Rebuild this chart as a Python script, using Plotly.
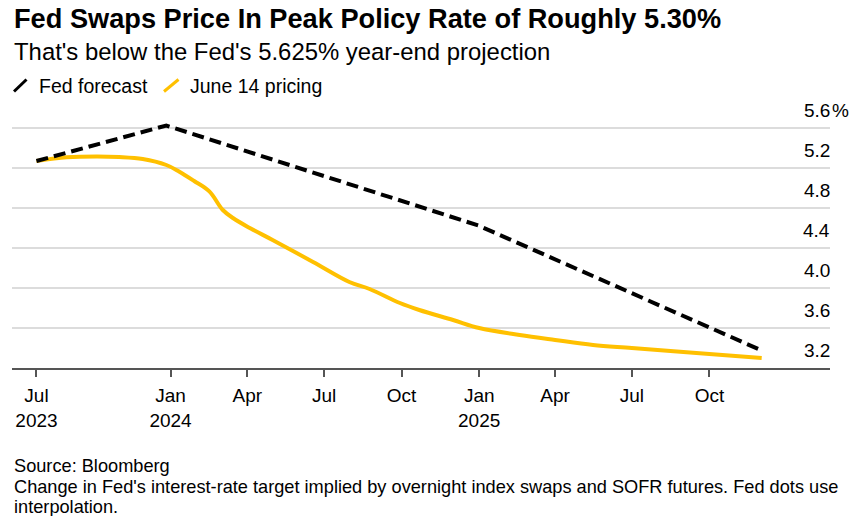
import plotly.graph_objects as go

# ---- data ----
pricing_dates = ["2023-07-26", "2023-08-31", "2023-10-05", "2023-11-01", "2023-11-29",
                 "2023-12-27", "2024-01-11", "2024-01-29", "2024-02-16", "2024-03-03",
                 "2024-03-15", "2024-04-04", "2024-05-01", "2024-06-18", "2024-07-31",
                 "2024-08-24", "2024-09-29", "2024-10-22", "2024-12-01", "2025-01-01",
                 "2025-02-18", "2025-04-01", "2025-05-16", "2025-07-01", "2025-10-01",
                 "2025-12-02"]
pricing_values = [5.27, 5.307, 5.316, 5.31, 5.29,
                  5.23, 5.166, 5.07, 4.966, 4.78,
                  4.70, 4.60, 4.48, 4.26, 4.06,
                  3.99, 3.85, 3.78, 3.68, 3.60,
                  3.53, 3.48, 3.43, 3.40, 3.34,
                  3.30]

fed_dates = ["2023-07-26", "2023-12-27", "2024-12-31", "2025-12-02"]
fed_values = [5.27, 5.625, 4.625, 3.375]

x_tick_vals = ["2023-07-26", "2024-01-01", "2024-04-01", "2024-07-01", "2024-10-01",
               "2025-01-01", "2025-04-01", "2025-07-01", "2025-10-01"]
x_tick_text = ["Jul<br>2023", "Jan<br>2024", "Apr", "Jul", "Oct",
               "Jan<br>2025", "Apr", "Jul", "Oct"]
y_tick_vals = [3.2, 3.6, 4.0, 4.4, 4.8, 5.2, 5.6]
y_tick_text = ["3.2", "3.6", "4.0", "4.4", "4.8", "5.2", "5.6"]

title = "Fed Swaps Price In Peak Policy Rate of Roughly 5.30%"
subtitle = "That's below the Fed's 5.625% year-end projection"
legend_names = ["Fed forecast", "June 14 pricing"]
footer_lines = ["Source: Bloomberg",
                "Change in Fed's interest-rate target implied by overnight index swaps and SOFR futures. Fed dots use",
                "interpolation."]

# ---- style ----
FONT = "Liberation Sans, Arial, sans-serif"
YELLOW = "#FFC000"
W, H = 855, 516
ML, MR, MT, MB = 12, 25, 118, 148
PW, PH = W - ML - MR, H - MT - MB


def px(x):
    return (x - ML) / PW


def py(y):
    return (H - MB - y) / PH


fig = go.Figure()
fig.add_trace(go.Scatter(x=pricing_dates, y=pricing_values, mode="lines",
                         line=dict(color=YELLOW, width=4, shape="spline", smoothing=1.0),
                         name=legend_names[1], showlegend=False))
fig.add_trace(go.Scatter(x=fed_dates, y=fed_values, mode="lines",
                         line=dict(color="black", width=4, dash="12px,6px"),
                         name=legend_names[0], showlegend=False))

annotations = []
# title / subtitle
annotations.append(dict(text=f"<b>{title}</b>", x=px(12), y=py(18.5), xref="paper", yref="paper",
                        xanchor="left", yanchor="middle", showarrow=False,
                        font=dict(family=FONT, size=27.2, color="black")))
annotations.append(dict(text=subtitle, x=px(12), y=py(51), xref="paper", yref="paper",
                        xanchor="left", yanchor="middle", showarrow=False,
                        font=dict(family=FONT, size=23.9, color="black")))
# legend
annotations.append(dict(text=legend_names[0], x=px(37), y=py(85.5), xref="paper", yref="paper",
                        xanchor="left", yanchor="middle", showarrow=False,
                        font=dict(family=FONT, size=19.5, color="black")))
annotations.append(dict(text=legend_names[1], x=px(188), y=py(85.5), xref="paper", yref="paper",
                        xanchor="left", yanchor="middle", showarrow=False,
                        font=dict(family=FONT, size=19.5, color="black")))
# y tick labels
for v, t in zip(y_tick_vals, y_tick_text):
    annotations.append(dict(text=t, x=px(832), y=v, xref="paper", yref="y",
                            xanchor="right", yanchor="middle", yshift=18, showarrow=False,
                            font=dict(family=FONT, size=19, color="black")))
annotations.append(dict(text="%", x=px(830), y=y_tick_vals[-1], xref="paper", yref="y",
                        xanchor="left", yanchor="middle", yshift=18, showarrow=False,
                        font=dict(family=FONT, size=19, color="black")))
# footer
for i, (line, yy) in enumerate(zip(footer_lines, [466, 486.5, 507])):
    annotations.append(dict(text=line, x=px(12), y=py(yy), xref="paper", yref="paper",
                            xanchor="left", yanchor="middle", showarrow=False,
                            font=dict(family=FONT, size=18.2, color="black")))

shapes = [
    dict(type="line", xref="paper", yref="paper", x0=px(14), y0=py(91.5), x1=px(26.5), y1=py(79.5),
         line=dict(color="black", width=3)),
    dict(type="line", xref="paper", yref="paper", x0=px(164), y0=py(91.5), x1=px(178.5), y1=py(79.5),
         line=dict(color=YELLOW, width=3)),
]

fig.update_layout(
    width=W, height=H,
    margin=dict(l=ML, r=MR, t=MT, b=MB, pad=0),
    paper_bgcolor="white", plot_bgcolor="white",
    showlegend=False,
    annotations=annotations, shapes=shapes,
    font=dict(family=FONT, size=19, color="black"),
    xaxis=dict(type="date", range=["2023-06-27", "2026-02-21"],
               tickvals=x_tick_vals, ticktext=x_tick_text,
               showgrid=False, zeroline=False,
               showline=True, linecolor="#555555", linewidth=2,
               ticks="outside", ticklen=7, tickwidth=1.5, tickcolor="#555555",
               ticklabelstandoff=2,
               tickfont=dict(family=FONT, size=19, color="black")),
    yaxis=dict(range=[3.2, 5.7], tickvals=y_tick_vals, showticklabels=False,
               showgrid=True, gridcolor="#dcdcdc", gridwidth=1.5,
               zeroline=False, showline=False, fixedrange=True),
)

fig.write_html("out.html",
               config={"displayModeBar": False},
               post_script="document.body.style.margin='0';document.body.style.padding='0';")
